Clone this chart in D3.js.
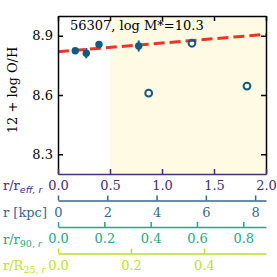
<!DOCTYPE html>
<html><head><meta charset="utf-8">
<script src="https://cdn.jsdelivr.net/npm/d3@7"></script>
<style>body{margin:0;background:#fff}svg{display:block;font-family:"DejaVu Serif",serif}</style>
</head><body>
<script>
// data
const title = "56307, log M*=10.3";
const filledX = [0.166, 0.272, 0.394, 0.776];
const filledY = [8.824, 8.812, 8.856, 8.848];
const filledErr = [0.008, 0.026, 0.008, 0.028];
const openX = [0.872, 1.288, 1.817];
const openY = [8.609, 8.862, 8.645];
const fitX = [0, 2];
const fitY = [8.819, 8.907];
const shadeStart = 0.5;
const yTicks = [8.3, 8.6, 8.9];
const reffTicks = [0, 0.5, 1.0, 1.5, 2.0];
const kpcTicks = [0, 2, 4, 6, 8];
const r90Ticks = [0, 0.2, 0.4, 0.6, 0.8];
const r25Ticks = [0, 0.2, 0.4];
const kpcMax = 8.44, r90Max = 0.898, r25Max = 0.57;

const W = 277, H = 277;
const L = 58, R = 266, T = 16, B = 174;
const svg = d3.select("body").append("svg").attr("width", W).attr("height", H);
const x = d3.scaleLinear().domain([0, 2]).range([L, R]);
const y = d3.scaleLinear().domain([8.2, 9.0]).range([B, T]);

const cPurple = "#472d7b", cBlue = "#31688e", cGreen = "#22a884", cYellow = "#bddf26";
const cPoint = "#0f5a82";

// background
svg.append("rect").attr("x", L).attr("y", T).attr("width", x(shadeStart) - L).attr("height", B - T).attr("fill", "#ffffff");
svg.append("rect").attr("x", x(shadeStart)).attr("y", T).attr("width", R - x(shadeStart)).attr("height", B - T).attr("fill", "#fffae3");

// fit line
svg.append("line").attr("x1", x(fitX[0])).attr("y1", y(fitY[0])).attr("x2", x(fitX[1])).attr("y2", y(fitY[1]))
  .attr("stroke", "#ee3524").attr("stroke-width", 3).attr("stroke-dasharray", "11,5");

// error bars
svg.selectAll(".eb").data(filledX).enter().append("line")
  .attr("x1", (d) => x(d)).attr("x2", (d) => x(d))
  .attr("y1", (d, i) => y(filledY[i] - filledErr[i])).attr("y2", (d, i) => y(filledY[i] + filledErr[i]))
  .attr("stroke", cPoint).attr("stroke-width", 2);
svg.selectAll(".fp").data(filledX).enter().append("circle")
  .attr("cx", (d) => x(d)).attr("cy", (d, i) => y(filledY[i])).attr("r", 3.7).attr("fill", cPoint);
svg.selectAll(".op").data(openX).enter().append("circle")
  .attr("cx", (d) => x(d)).attr("cy", (d, i) => y(openY[i])).attr("r", 3.4)
  .attr("fill", "none").attr("stroke", cPoint).attr("stroke-width", 2);

// axes
function style(g, color, fs) {
  g.selectAll("path").attr("stroke", color).attr("stroke-width", 1.5);
  g.selectAll("line").attr("stroke", color).attr("stroke-width", 1.5);
  g.selectAll("text").attr("fill", color).attr("font-size", fs).attr("font-family", "DejaVu Serif");
}
// left
const gl = svg.append("g").attr("transform", `translate(${L},0)`)
  .call(d3.axisLeft(y).tickValues(yTicks).tickFormat(d3.format(".1f")).tickSizeInner(-5).tickSizeOuter(0).tickPadding(5));
style(gl, "#000", 13);
// right
const gr = svg.append("g").attr("transform", `translate(${R},0)`)
  .call(d3.axisRight(y).tickValues(yTicks).tickFormat("").tickSizeInner(-5).tickSizeOuter(0));
style(gr, "#000", 13);
// top
const gt = svg.append("g").attr("transform", `translate(0,${T})`)
  .call(d3.axisTop(x).tickValues(reffTicks).tickFormat("").tickSizeInner(-5).tickSizeOuter(0));
style(gt, "#000", 13);
// bottom main
const gb = svg.append("g").attr("transform", `translate(0,${B})`)
  .call(d3.axisBottom(x).tickValues(reffTicks).tickFormat(d3.format(".1f")).tickSizeInner(-5).tickSizeOuter(0).tickPadding(7));
style(gb, cPurple, 13);

// secondary axes
function secAxis(yy, max, ticks, fmt, color) {
  const s = d3.scaleLinear().domain([0, max]).range([L, R]);
  const g = svg.append("g").attr("transform", `translate(0,${yy})`)
    .call(d3.axisBottom(s).tickValues(ticks).tickFormat(fmt).tickSizeInner(-5).tickSizeOuter(0).tickPadding(7));
  style(g, color, 13);
}
secAxis(200.5, kpcMax, kpcTicks, d3.format("d"), cBlue);
secAxis(227, r90Max, r90Ticks, d3.format(".1f"), cGreen);
secAxis(253.5, r25Max, r25Ticks, d3.format(".1f"), cYellow);

// left labels
function sideLabel(yy, main, sub, color) {
  const t = svg.append("text").attr("x", 3).attr("y", yy).attr("fill", color).attr("font-size", 13);
  t.append("tspan").text(main);
  if (sub) sub.forEach((s) => t.append("tspan").attr("font-size", 9.5).attr("dy", s.dy || null)
      .attr("font-style", s.it ? "italic" : null).attr("font-family", s.sans ? "DejaVu Sans" : null).text(s.t));
}
sideLabel(190, "r/r", [{t: "eff, r", it: true, sans: true, dy: 3}], cPurple);
sideLabel(217, "r [kpc]", null, cBlue);
sideLabel(244, "r/r", [{t: "90,", dy: 3}, {t: " r", it: true, sans: true}], cGreen);
sideLabel(270, "r/R", [{t: "25,", dy: 3}, {t: " r", it: true, sans: true}], cYellow);

// title
svg.append("text").attr("x", 70).attr("y", 30).attr("font-size", 13).attr("fill", "#000").text(title);
// y label
svg.append("text").attr("transform", "translate(17,90) rotate(-90)").attr("text-anchor", "middle")
  .attr("font-size", 13).attr("fill", "#000").text("12 + log O/H");
</script>
</body></html>
